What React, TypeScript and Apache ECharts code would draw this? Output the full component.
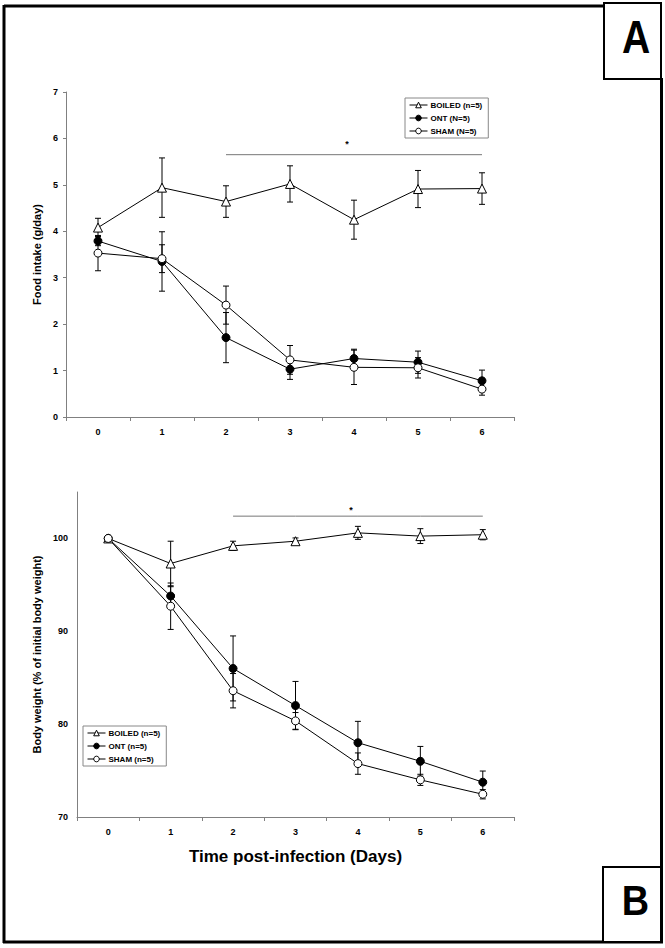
import React, { useEffect, useRef } from "react";
import * as echarts from "echarts";

const days = ["0", "1", "2", "3", "4", "5", "6"];

const foodBoiled = [4.08, 4.94, 4.64, 5.02, 4.25, 4.91, 4.92];
const foodBoiledErr = [0.2, 0.64, 0.34, 0.39, 0.42, 0.4, 0.34];
const foodOnt = [3.79, 3.35, 1.71, 1.03, 1.26, 1.18, 0.78];
const foodOntErr = [0.1, 0.64, 0.54, 0.22, 0.2, 0.24, 0.23];
const foodSham = [3.53, 3.41, 2.41, 1.23, 1.07, 1.06, 0.6];
const foodShamErr = [0.38, 0.3, 0.41, 0.31, 0.37, 0.22, 0.13];

const bwBoiled = [100, 97.3, 99.2, 99.7, 100.6, 100.25, 100.4];
const bwBoiledErr = [0, 2.4, 0.5, 0.35, 0.7, 0.8, 0.55];
const bwOnt = [100, 93.8, 86.0, 82.0, 78.0, 76.0, 73.75];
const bwOntErr = [0, 1.0, 3.5, 2.6, 2.3, 1.6, 1.2];
const bwSham = [100, 92.7, 83.6, 80.35, 75.75, 74.0, 72.45];
const bwShamErr = [0, 2.5, 1.85, 0.9, 1.15, 0.6, 0.5];

// significance bars: from day 2 to day 6
const foodSig = [null, null, 5.65, 5.65, 5.65, 5.65, 5.65];
const foodStar = 5.88;
const bwSig = [null, null, 102.4, 102.4, 102.4, 102.4, 102.4];
const bwStar = 103.1;

const topNames = ["BOILED (n=5)", "ONT (N=5)", "SHAM (N=5)"];
const botNames = ["BOILED (n=5)", "ONT (n=5)", "SHAM (n=5)"];

const FONT = "'Liberation Sans', Arial, sans-serif";
const AXIS_GRAY = "#808080";

function errSeries(idx: number, means: number[], errs: number[]) {
  return {
    type: "custom",
    xAxisIndex: idx,
    yAxisIndex: idx,
    silent: true,
    z: 2,
    encode: { x: 0, y: [1, 2] },
    data: means.map((m, i) => [i, m - errs[i], m + errs[i]]),
    renderItem: (params: any, api: any) => {
      const lo = api.coord([api.value(0), api.value(1)]);
      const hi = api.coord([api.value(0), api.value(2)]);
      if (Math.abs(lo[1] - hi[1]) < 0.5) return { type: "group", children: [] };
      const w = 3;
      const st = { stroke: "#000", lineWidth: 1 };
      return {
        type: "group",
        children: [
          { type: "line", shape: { x1: lo[0], y1: lo[1], x2: hi[0], y2: hi[1] }, style: st },
          { type: "line", shape: { x1: lo[0] - w, y1: lo[1], x2: lo[0] + w, y2: lo[1] }, style: st },
          { type: "line", shape: { x1: hi[0] - w, y1: hi[1], x2: hi[0] + w, y2: hi[1] }, style: st },
        ],
      };
    },
  };
}

function starSeries(idx: number, y: number) {
  return {
    type: "custom",
    xAxisIndex: idx,
    yAxisIndex: idx,
    silent: true,
    z: 3,
    data: [[3, y]],
    renderItem: (params: any, api: any) => {
      const a = api.coord([3, api.value(1)]);
      const b = api.coord([4, api.value(1)]);
      const x = a[0] + (b[0] - a[0]) * 0.89;
      return {
        type: "text",
        style: {
          text: "*",
          x,
          y: a[1],
          align: "center",
          verticalAlign: "middle",
          font: `bold 9px ${FONT}`,
          fill: "#000",
        },
      };
    },
  };
}

function lineSeries(idx: number, name: string, data: number[], kind: string) {
  const filled = kind === "ont";
  return {
    type: "line",
    name,
    xAxisIndex: idx,
    yAxisIndex: idx,
    data,
    z: 4,
    symbol: kind === "boiled" ? "triangle" : "circle",
    symbolSize: kind === "boiled" ? 9 : 8,
    showAllSymbol: true,
    itemStyle: { color: filled ? "#000" : "#fff", borderColor: "#000", borderWidth: 1 },
    lineStyle: { color: "#000", width: 1 },
  };
}

function sigSeries(idx: number, data: (number | null)[]) {
  return {
    type: "line",
    xAxisIndex: idx,
    yAxisIndex: idx,
    data,
    symbol: "none",
    silent: true,
    z: 1,
    lineStyle: { color: "#777", width: 1 },
  };
}

export default function App() {
  const ref = useRef<HTMLDivElement>(null);
  useEffect(() => {
    if (!ref.current) return;
    const chart = echarts.init(ref.current, undefined, { renderer: "svg" });
    const tickLabel = { color: "#000", fontWeight: "bold", fontSize: 9, fontFamily: FONT };
    const xAxisBase = {
      type: "category",
      data: days,
      boundaryGap: true,
      axisLine: { lineStyle: { color: AXIS_GRAY, width: 1 } },
      axisTick: { show: true, length: 4, lineStyle: { color: AXIS_GRAY } },
      axisLabel: { ...tickLabel, margin: 10 },
      splitLine: { show: false },
    };
    const legendBase = {
      orient: "vertical",
      borderColor: "#888",
      borderWidth: 1,
      padding: [3, 6, 3, 4],
      itemGap: 5,
      itemWidth: 18,
      itemHeight: 7,
      lineStyle: { width: 1, color: "#000" },
      itemStyle: { borderWidth: 1, borderColor: "#000" },
      textStyle: { color: "#000", fontWeight: "bold", fontSize: 8, fontFamily: FONT, padding: [0, 0, 0, -2] },
      selectedMode: false,
    };
    const option: any = {
      animation: false,
      backgroundColor: "#fff",
      textStyle: { fontFamily: FONT },
      grid: [
        { left: 66, top: 92, width: 448, height: 325 },
        { left: 77, top: 492, width: 437, height: 325 },
      ],
      xAxis: [
        { ...xAxisBase, gridIndex: 0 },
        {
          ...xAxisBase,
          gridIndex: 1,
          name: "Time post-infection (Days)",
          nameLocation: "middle",
          nameGap: 31,
          nameTextStyle: { color: "#000", fontWeight: "bold", fontSize: 17, fontFamily: FONT },
        },
      ],
      yAxis: [
        {
          type: "value",
          gridIndex: 0,
          min: 0,
          max: 7,
          interval: 1,
          axisLine: { show: true, lineStyle: { color: AXIS_GRAY, width: 1 } },
          axisTick: { show: true, length: 3, lineStyle: { color: AXIS_GRAY } },
          axisLabel: { ...tickLabel, margin: 8 },
          splitLine: { show: false },
          name: "Food intake (g/day)",
          nameLocation: "middle",
          nameGap: 19,
          nameTextStyle: { color: "#000", fontWeight: "bold", fontSize: 11, fontFamily: FONT },
        },
        {
          type: "value",
          gridIndex: 1,
          min: 70,
          max: 105,
          interval: 10,
          axisLine: { show: true, lineStyle: { color: AXIS_GRAY, width: 1 } },
          axisTick: { show: false },
          axisLabel: { ...tickLabel, margin: 9, showMaxLabel: false },
          splitLine: { show: false },
          name: "Body weight (% of initial body weight)",
          nameLocation: "middle",
          nameGap: 30,
          nameTextStyle: { color: "#000", fontWeight: "bold", fontSize: 11, fontFamily: FONT },
        },
      ],
      legend: [
        { ...legendBase, left: 405, top: 98, data: topNames },
        { ...legendBase, left: 83, top: 726, data: botNames },
      ],
      series: [
        sigSeries(0, foodSig),
        starSeries(0, foodStar),
        errSeries(0, foodBoiled, foodBoiledErr),
        errSeries(0, foodOnt, foodOntErr),
        errSeries(0, foodSham, foodShamErr),
        lineSeries(0, topNames[0], foodBoiled, "boiled"),
        lineSeries(0, topNames[1], foodOnt, "ont"),
        lineSeries(0, topNames[2], foodSham, "sham"),
        sigSeries(1, bwSig),
        starSeries(1, bwStar),
        errSeries(1, bwBoiled, bwBoiledErr),
        errSeries(1, bwOnt, bwOntErr),
        errSeries(1, bwSham, bwShamErr),
        lineSeries(1, botNames[0], bwBoiled, "boiled"),
        lineSeries(1, botNames[1], bwOnt, "ont"),
        lineSeries(1, botNames[2], bwSham, "sham"),
      ],
      graphic: [
        { type: "line", shape: { x1: 4, y1: 6, x2: 604, y2: 6 }, style: { stroke: "#000", lineWidth: 3 } },
        { type: "line", shape: { x1: 4, y1: 5, x2: 4, y2: 943 }, style: { stroke: "#000", lineWidth: 3 } },
        { type: "line", shape: { x1: 3, y1: 942, x2: 663, y2: 942 }, style: { stroke: "#000", lineWidth: 3 } },
        { type: "line", shape: { x1: 661.5, y1: 78, x2: 661.5, y2: 943 }, style: { stroke: "#000", lineWidth: 3 } },
        { type: "rect", shape: { x: 604, y: 3, width: 57, height: 76 }, style: { fill: "#fff", stroke: "#000", lineWidth: 2 } },
        { type: "rect", shape: { x: 603, y: 867, width: 58, height: 75 }, style: { fill: "#fff", stroke: "#000", lineWidth: 2 } },
        {
          type: "text",
          x: 636,
          y: 37,
          scaleX: 0.85,
          style: { text: "A", font: `bold 46px ${FONT}`, fill: "#000", align: "center", verticalAlign: "middle" },
        },
        {
          type: "text",
          x: 635.5,
          y: 900,
          scaleX: 0.88,
          style: { text: "B", font: `bold 43px ${FONT}`, fill: "#000", align: "center", verticalAlign: "middle" },
        },
      ],
    };
    chart.setOption(option);
    return () => chart.dispose();
  }, []);
  return (
    <div
      ref={ref}
      style={{ position: "fixed", left: 0, top: 0, width: 665, height: 948, background: "#fff" }}
    />
  );
}
